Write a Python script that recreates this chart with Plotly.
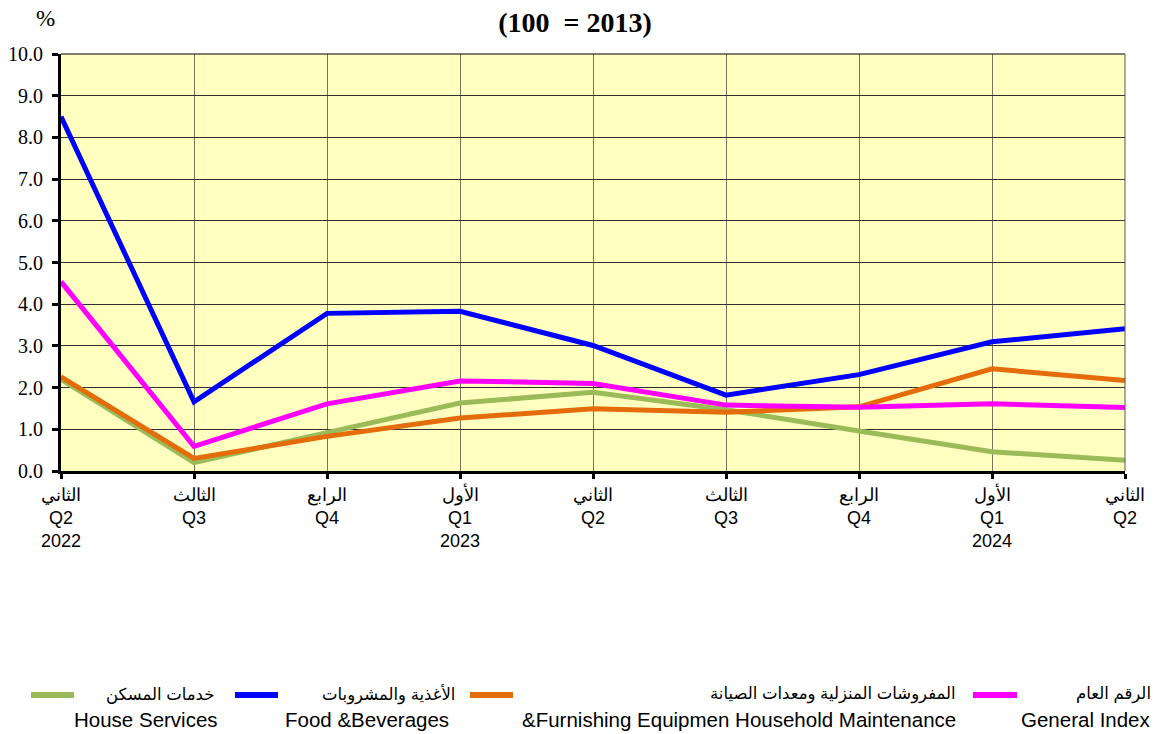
import plotly.graph_objects as go

quarters_ar = ["الثاني", "الثالث", "الرابع", "الأول", "الثاني", "الثالث", "الرابع", "الأول", "الثاني"]
quarters_en = ["Q2", "Q3", "Q4", "Q1", "Q2", "Q3", "Q4", "Q1", "Q2"]
years = ["2022", "", "", "2023", "", "", "", "2024", ""]

house_services = [2.20, 0.20, 0.92, 1.63, 1.89, 1.47, 0.96, 0.46, 0.26]
food_beverages = [8.50, 1.66, 3.78, 3.83, 3.01, 1.82, 2.31, 3.10, 3.41]
furnishing = [2.26, 0.30, 0.83, 1.27, 1.49, 1.41, 1.54, 2.45, 2.17]
general_index = [4.54, 0.59, 1.61, 2.16, 2.10, 1.58, 1.53, 1.61, 1.52]

names_ar = ["خدمات المسكن", "الأغذية والمشروبات", "المفروشات المنزلية ومعدات الصيانة", "الرقم العام"]
names_en = ["House Services", "Food &amp;Beverages", "&amp;Furnishing Equipmen Household Maintenance", "General Index"]
series_values = [house_services, food_beverages, furnishing, general_index]
series_colors = ["#9BBB59", "#0000FF", "#E46C0A", "#FF00FF"]

y_ticks = [i * 1.0 for i in range(11)]
y_ticktext = [f"{v:.1f}" for v in y_ticks]

x = list(range(len(quarters_en)))
x_ticktext = [f"{a}<br>{q}<br>{y}" for a, q, y in zip(quarters_ar, quarters_en, years)]

W, H = 1158, 734
L, R, T, B = 61, 33, 54, 263
PW, PH = W - L - R, H - T - B


def px_x(p):
    return (p - L) / PW


def px_y(p):
    return (H - B - p) / PH


fig = go.Figure()
for ar, en, vals, col in zip(names_ar, names_en, series_values, series_colors):
    fig.add_trace(go.Scatter(
        x=x, y=vals, mode="lines", name=f"{ar}<br>{en}",
        line=dict(color=col, width=5), showlegend=False,
    ))

# legend (drawn as a right-aligned two-line key, as in the original)
leg_sym_x = [(31, 74), (235, 278), (470, 513), (973, 1017)]
leg_ar_right = [216, 457, 958, 1153]
leg_en_right = [220, 451, 958, 1153]
leg_sym_y, leg_ar_y, leg_en_y = 695, 694, 720

shapes = [
    dict(type="line", xref="paper", yref="paper", x0=0, x1=1, y0=1, y1=1,
         line=dict(color="black", width=1)),
    dict(type="line", xref="paper", yref="paper", x0=1, x1=1, y0=0, y1=1,
         line=dict(color="#555555", width=1)),
]
annotations = [
    dict(
        text="%", xref="paper", yref="paper",
        x=px_x(45), y=px_y(18),
        xanchor="center", yanchor="middle", showarrow=False,
        font=dict(family="Liberation Serif, Times New Roman, serif", size=23, color="black"),
    )
]
for (sx0, sx1), col, ar, en, ra, re in zip(leg_sym_x, series_colors, names_ar, names_en,
                                           leg_ar_right, leg_en_right):
    shapes.append(dict(type="line", xref="paper", yref="paper",
                       x0=px_x(sx0), x1=px_x(sx1), y0=px_y(leg_sym_y), y1=px_y(leg_sym_y),
                       line=dict(color=col, width=6)))
    annotations.append(dict(text=ar, xref="paper", yref="paper", x=px_x(ra), y=px_y(leg_ar_y),
                            xanchor="right", yanchor="middle", showarrow=False,
                            font=dict(family="Liberation Sans, DejaVu Sans, sans-serif", size=16.5, color="black")))
    annotations.append(dict(text=en, xref="paper", yref="paper", x=px_x(re), y=px_y(leg_en_y),
                            xanchor="right", yanchor="middle", showarrow=False,
                            font=dict(family="Liberation Sans, Arial, sans-serif", size=20.5, color="black")))

fig.update_layout(
    width=W, height=H,
    margin=dict(l=L, r=R, t=T, b=B, autoexpand=False),
    paper_bgcolor="white",
    plot_bgcolor="#FFFFC0",
    title=dict(
        text="<b>(100&nbsp;&nbsp;= 2013)</b>",
        font=dict(family="Liberation Serif, Times New Roman, serif", size=28, color="black"),
        x=0.4965, xref="container", xanchor="center",
        y=1 - 22 / H, yref="container", yanchor="middle",
    ),
    showlegend=False,
    annotations=annotations,
    shapes=shapes,
)

fig.update_xaxes(
    range=[0, 8], automargin=False,
    tickmode="array", tickvals=x, ticktext=x_ticktext,
    showgrid=True, gridcolor="#77735E", gridwidth=1,
    showline=True, linecolor="black", linewidth=3,
    ticks="outside", ticklen=5, tickwidth=3, tickcolor="black",
    tickfont=dict(family="Liberation Sans, Arial, sans-serif", size=18, color="black"),
    zeroline=False,
    fixedrange=True,
)
fig.update_yaxes(
    range=[0, 10], automargin=False,
    tickmode="array", tickvals=y_ticks, ticktext=y_ticktext,
    showgrid=True, gridcolor="#303030", gridwidth=1,
    showline=True, linecolor="black", linewidth=3,
    ticks="outside", ticklen=6, tickwidth=3, tickcolor="black",
    ticklabelstandoff=5,
    tickfont=dict(family="Liberation Serif, Times New Roman, serif", size=20, color="black"),
    zeroline=False,
    fixedrange=True,
)

fig.write_html(
    "out.html",
    config={"displayModeBar": False},
    post_script="document.body.style.margin='0px';document.body.style.overflow='hidden';",
)
